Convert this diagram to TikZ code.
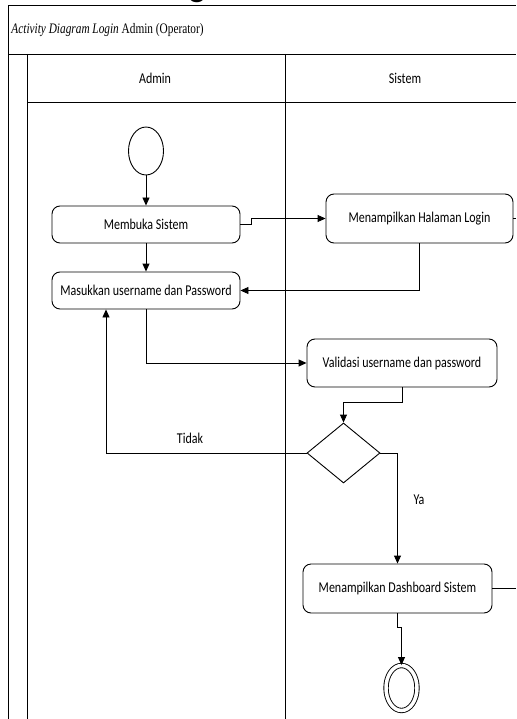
\documentclass[tikz,border=0pt]{standalone}
\usepackage{fontspec}
\setmainfont[FakeStretch=0.8]{Carlito}
\newfontfamily\judulfont[FakeStretch=0.78]{Liberation Serif}
\usetikzlibrary{arrows.meta,shapes.geometric}
\tikzset{
	aktivitas/.style={draw, rounded corners=8pt, minimum width=188pt, minimum height=37pt, inner sep=0pt, font=\fontsize{15}{18}\selectfont},
	teks/.style={inner sep=1pt, font=\fontsize{15}{18}\selectfont},
	awal/.style={draw, ellipse, minimum width=35pt, minimum height=48pt, inner sep=0pt},
	akhir/.style={draw, ellipse, double, double distance=3.5pt, minimum width=31pt, minimum height=45pt, inner sep=0pt},
	keputusan/.style={draw, diamond, minimum width=73pt, minimum height=60pt, inner sep=0pt},
	alur/.style={-{Triangle[length=8pt,width=7pt]}}
}
\begin{document}
\begin{tikzpicture}[x=1pt, y=-1pt, line width=0.9pt]
			\useasboundingbox (0,0) rectangle (516,719);
			\clip (0,0) rectangle (516,719);
			\begin{scope}
				\clip (170,0) rectangle (240,4.5);
				\node[anchor=base, inner sep=0pt, font=\fontsize{48}{48}\selectfont] (potongan) at (198,-5) {g};
			\end{scope}
			\draw (8,719) -- (8,5) -- (516,5);
			\draw (8,54) -- (516,54);
			\draw (27,102) -- (516,102);
			\foreach \x in {27, 285}
				\draw (\x,54) -- (\x,719);
			\node[anchor=west, inner sep=0pt, font=\judulfont\fontsize{14.5}{16}\selectfont] (judul) at (11,30) {\textit{Activity Diagram Login} Admin (Operator)};
			\node[teks] (admin) at (155,78) {Admin};
			\node[teks] (sistem) at (405,78) {Sistem};
			\node[awal] (mulai) at (146,151) {};
			\node[aktivitas] (membuka) at (146,224.5) {Membuka Sistem};
			\node[aktivitas, minimum width=187pt, minimum height=49pt] (halaman) at (419.5,218.5) {Menampilkan Halaman Login};
			\node[aktivitas] (masukkan) at (146,290.5) {Masukkan username dan Password};
			\node[aktivitas, minimum width=190pt, minimum height=48pt] (validasi) at (402,363) {Validasi username dan password};
			\node[keputusan] (cek) at (343.5,453) {};
			\node[aktivitas, minimum width=189pt, minimum height=49pt] (dashboard) at (397.5,588.5) {Menampilkan Dashboard Sistem};
			\node[akhir] (selesai) at (401.5,688) {};
			\node[teks] (tidak) at (190,438) {Tidak};
			\node[teks] (ya) at (419,500) {Ya};
			\coordinate (keluar1) at (516,218.5);
			\coordinate (keluar2) at (516,588.5);
			\draw[alur] (mulai) -- (membuka);
			\draw[alur] (membuka.east) -- ++(11,0) |- (halaman.west);
			\draw[alur] (membuka) -- (masukkan);
			\draw[alur] (halaman.south) |- (masukkan.east);
			\draw[alur] (masukkan.south) |- (validasi.west);
			\draw[alur] (validasi.south) -- ++(0,15) -| (cek.north);
			\draw[alur] (cek.west) -| ([xshift=-40pt]masukkan.south);
			\draw[alur] (cek.east) -| (dashboard.north);
			\draw[alur] (dashboard.south) -- ++(0,14) -| (selesai.north);
			\draw (halaman.east) -- (keluar1);
			\draw (dashboard.east) -- (keluar2);
\end{tikzpicture}
\end{document}
